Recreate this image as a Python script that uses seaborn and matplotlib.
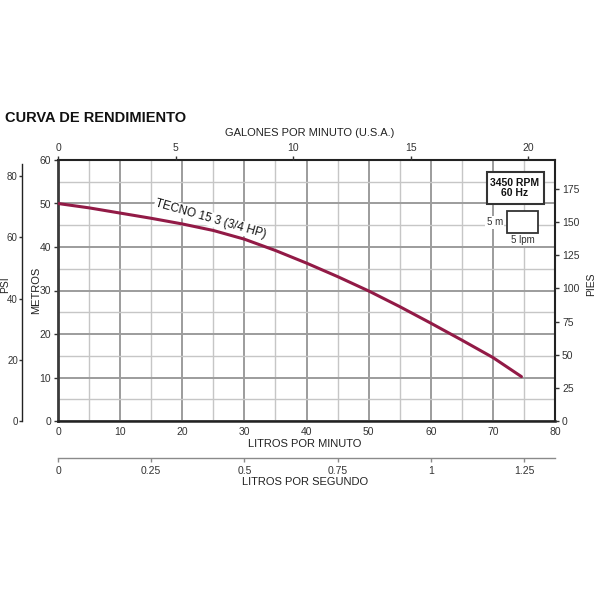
import seaborn as sns
import pandas as pd
from matplotlib import pyplot as plt
from matplotlib.patches import Rectangle
from matplotlib.ticker import MultipleLocator

# curve (litros por minuto -> metros)
lpm = [0, 5, 10, 15, 20, 25, 30, 35, 40, 45, 50, 55, 60, 65, 70, 74.6]
metros = [50.0, 49.0, 47.8, 46.6, 45.3, 43.8, 41.8, 39.2, 36.3, 33.2, 29.9, 26.3, 22.5, 18.6, 14.6, 10.2]
curve_name = 'TECNO 15 3 (3/4 HP)'

gpm_ticks = [0, 5, 10, 15, 20]
lps_ticks = [0, 0.25, 0.5, 0.75, 1, 1.25]
lps_labels = ['0', '0.25', '0.5', '0.75', '1', '1.25']
psi_ticks = [0, 20, 40, 60, 80]
pies_ticks = [0, 25, 50, 75, 100, 125, 150, 175]

LPM_MAX, M_MAX = 80, 60
GAL = 3.78541
PSI_M = 0.70307
FT = 3.28084

sns.set_theme(style='white')
plt.rcParams['font.family'] = ['Liberation Sans Narrow', 'DejaVu Sans Condensed',
                               'Liberation Sans', 'DejaVu Sans']
plain = ['Liberation Sans', 'DejaVu Sans']

dark = '#333333'
lab = '#222222'
fig = plt.figure(figsize=(6, 6), dpi=100)
ax = fig.add_axes([58 / 600, 1 - 421 / 600, 497 / 600, 261 / 600])

df = pd.DataFrame({'lpm': lpm, 'metros': metros})
sns.lineplot(data=df, x='lpm', y='metros', ax=ax, color='#921a46', lw=2.2, zorder=6)

ax.set_xlim(0, LPM_MAX)
ax.set_ylim(0, M_MAX)
ax.xaxis.set_major_locator(MultipleLocator(10))
ax.xaxis.set_minor_locator(MultipleLocator(5))
ax.yaxis.set_major_locator(MultipleLocator(10))
ax.yaxis.set_minor_locator(MultipleLocator(5))
ax.grid(which='major', color='#9c9c9c', lw=1.4, zorder=0)
ax.grid(which='minor', color='#c6c6c6', lw=1.0, zorder=0)
ax.set_axisbelow(True)
ax.tick_params(axis='x', which='both', length=0, pad=4, labelsize=7.5, colors=dark)
ax.tick_params(axis='y', which='major', length=3, width=1, pad=2, labelsize=7.5,
               colors=dark, left=True)
ax.tick_params(axis='y', which='minor', length=0)
for side, lw, col in [('left', 2.0, '#3a3a3a'), ('bottom', 1.8, '#222222'),
                      ('top', 1.5, '#222222'), ('right', 1.5, '#222222')]:
    ax.spines[side].set_linewidth(lw)
    ax.spines[side].set_color(col)
ax.set_xlabel('LITROS POR MINUTO', fontsize=8, color=lab)
ax.xaxis.set_label_coords(0.497, -0.069)
ax.set_ylabel('METROS', fontsize=8, color=lab)
ax.yaxis.set_label_coords(-0.034, 0.50)

# galones por minuto (top)
axg = ax.twiny()
axg.set_xlim(0, LPM_MAX / GAL)
axg.set_xticks(gpm_ticks)
axg.tick_params(axis='x', length=3, width=1, pad=2, labelsize=7.5, colors=dark)
axg.set_xlabel('GALONES POR MINUTO (U.S.A.)', fontsize=8, color=lab)
axg.xaxis.set_label_coords(0.507, 1.092)
for s in axg.spines.values():
    s.set_visible(False)

# litros por segundo (second bottom axis)
axs = ax.twiny()
axs.set_xlim(0, LPM_MAX / 60)
axs.xaxis.set_ticks_position('bottom')
axs.xaxis.set_label_position('bottom')
axs.set_xticks(lps_ticks)
axs.set_xticklabels(lps_labels)
for s in axs.spines.values():
    s.set_visible(False)
axs.spines['bottom'].set_visible(True)
axs.spines['bottom'].set_position(('axes', -37 / 261))
axs.spines['bottom'].set_color('#8a8a8a')
axs.spines['bottom'].set_linewidth(1.0)
axs.tick_params(axis='x', length=3, width=1, color='#8a8a8a', pad=3, labelsize=7.5,
                labelcolor=dark)
axs.set_xlabel('LITROS POR SEGUNDO', fontsize=8, color=lab)
axs.xaxis.set_label_coords(0.497, -0.2146)

# psi (far left)
axp = ax.twinx()
axp.set_ylim(0, M_MAX / PSI_M)
axp.yaxis.set_ticks_position('left')
axp.yaxis.set_label_position('left')
axp.set_yticks(psi_ticks)
for s in axp.spines.values():
    s.set_visible(False)
axp.spines['left'].set_visible(True)
axp.spines['left'].set_position(('axes', -36 / 497))
axp.spines['left'].set_color('#222222')
axp.spines['left'].set_linewidth(1.0)
axp.spines['left'].set_bounds(0, 84)
axp.tick_params(axis='y', length=2, width=1, pad=1, labelsize=7, colors=dark)
axp.set_ylabel('PSI', fontsize=7.5, color=lab)
axp.yaxis.set_label_coords(-0.0966, 0.522)

# pies (right)
axf = ax.twinx()
axf.set_ylim(0, M_MAX * FT)
axf.set_yticks(pies_ticks)
for s in axf.spines.values():
    s.set_visible(False)
axf.tick_params(axis='y', length=3, width=1, pad=2, labelsize=7.5, colors=dark)
axf.set_ylabel('PIES', fontsize=7.5, color=lab)
axf.yaxis.set_label_coords(1.0624, 0.525)

# curve name
ax.text(24.6, 46.4, curve_name, rotation=-16, ha='center', va='center',
        fontsize=8.5, family=plain, color='#111111',
        zorder=5, rotation_mode='anchor',
        bbox=dict(boxstyle='square,pad=0.1', fc='white', ec='none'))

# rpm box
ax.add_patch(Rectangle((0.8626, 0.8314), 0.1153, 0.1238, transform=ax.transAxes,
                       fc='white', ec='#333333', lw=1.5, zorder=7))
ax.text(0.9195, 0.8927, '3450 RPM\n60 Hz', transform=ax.transAxes, ha='center',
        va='center', fontsize=7.5, fontweight='bold', linespacing=1.0,
        family=plain, color='#111111', zorder=8)

# scale box: 5 lpm x 5 m
ax.add_patch(Rectangle((72.3, 43.2), 5, 5, fc='white', ec='#333333', lw=1.3, zorder=7))
ax.text(71.6, 45.7, '5 m', ha='right', va='center', fontsize=7, color='#333333',
        zorder=8, bbox=dict(boxstyle='square,pad=0.15', fc='white', ec='none'))
ax.text(74.8, 41.7, '5 lpm', ha='center', va='center', fontsize=7, color='#333333',
        zorder=8, bbox=dict(boxstyle='square,pad=0.1', fc='white', ec='none'))

fig.text(5 / 600, 1 - 118 / 600, 'CURVA DE RENDIMIENTO', ha='left', va='center',
         fontsize=10.5, fontweight='bold', color='#111111')

fig.savefig('out.png', dpi=100)
